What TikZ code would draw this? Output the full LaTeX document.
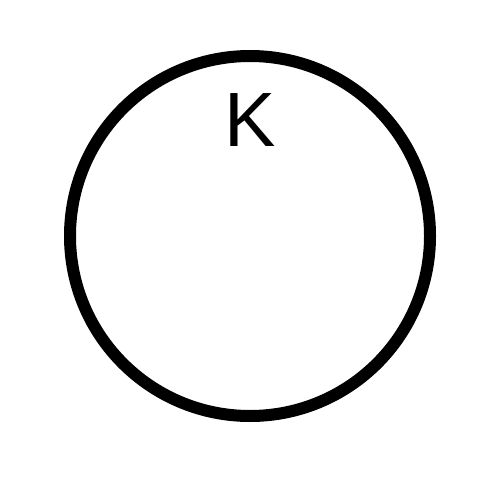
\documentclass[tikz,border=0pt]{standalone}
\usepackage{fontspec}
\setmainfont{Liberation Sans}
\begin{document}
\begin{tikzpicture}[x=1pt,y=-1pt]
\useasboundingbox (0,0) rectangle (500,500);
\node[circle, draw, line width=12pt, minimum size=360pt, inner sep=0pt] (c) at (250,236) {};
\node[font=\fontsize{77}{77}\selectfont, inner sep=0pt] (k) at (250,120) {K};
\end{tikzpicture}
\end{document}
